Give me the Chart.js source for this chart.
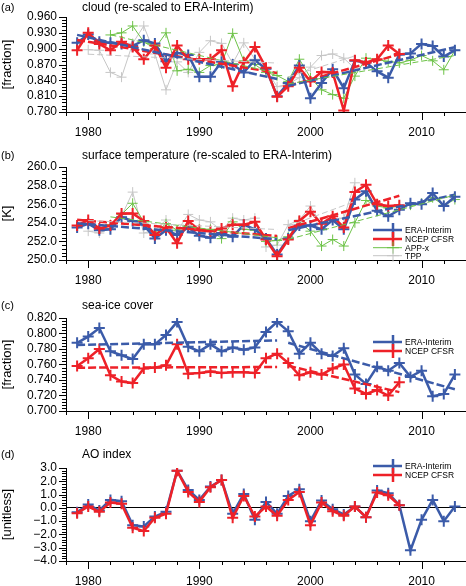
<!DOCTYPE html>
<html>
<head>
<meta charset="utf-8">
<script src="https://cdn.jsdelivr.net/npm/chart.js@4.4.1/dist/chart.umd.min.js"></script>
<style>
  body { margin: 0; background: #fff; }
  #wrap { position: relative; width: 466px; height: 586px; font-family: "Liberation Sans", Arial, sans-serif; color: #000; }
  #wrap canvas { position: absolute; left: 0; }
  .tag { position: absolute; left: 1px; font-size: 11px; line-height: 14px; }
  .ttl { position: absolute; left: 82px; font-size: 12px; line-height: 14px; white-space: nowrap; }
</style>
</head>
<body>
<div id="wrap">
  <canvas id="pa"></canvas>
  <canvas id="pb"></canvas>
  <canvas id="pc"></canvas>
  <canvas id="pd"></canvas>
  <div class="tag" style="top:0px">(a)</div>
  <div class="ttl" style="top:0px">cloud (re-scaled to ERA-Interim)</div>
  <div class="tag" style="top:148px">(b)</div>
  <div class="ttl" style="top:148px">surface temperature (re-scaled to ERA-Interim)</div>
  <div class="tag" style="top:298px">(c)</div>
  <div class="ttl" style="top:298px">sea-ice cover</div>
  <div class="tag" style="top:447px">(d)</div>
  <div class="ttl" style="top:447px">AO index</div>
</div>
<script>
// years shared by every panel
const years = [1979,1980,1981,1982,1983,1984,1985,1986,1987,1988,1989,1990,1991,1992,1993,1994,1995,1996,1997,
               1998,1999,2000,2001,2002,2003,2004,2005,2006,2007,2008,2009,2010,2011,2012,2013];

// (a) cloud
const cloudEra  = [0.911,0.927,0.913,0.911,0.909,0.905,0.916,0.910,0.876,0.892,0.888,0.847,0.847,0.875,0.870,0.855,0.878,0.862,0.810,
                   0.835,0.868,0.806,0.835,0.861,0.825,0.877,0.874,0.857,0.845,0.889,0.891,0.909,0.905,0.885,0.897];
const cloudNcep = [0.897,0.930,0.909,0.897,0.913,0.903,0.880,0.906,0.864,0.906,0.880,0.880,0.880,0.897,0.829,0.874,0.903,0.864,0.809,
                   0.829,0.864,0.838,0.856,0.855,0.783,0.878,0.874,0.880,0.906,0.890,null,null,null,null,null];
const cloudAppx = [null,null,null,0.926,0.930,0.943,0.913,0.900,0.930,0.858,0.861,0.855,0.868,0.871,0.929,0.877,0.870,0.855,0.849,
                   0.838,0.880,0.845,0.822,0.813,0.806,0.848,0.882,0.879,0.876,0.873,0.878,0.887,0.877,0.860,0.897];
const cloudTpp  = [null,0.898,0.897,0.855,0.846,0.910,0.943,0.890,0.822,0.875,0.855,0.893,0.915,0.910,0.872,0.911,0.880,0.860,0.828,
                   0.833,0.845,0.865,0.887,0.890,0.882,0.862,null,null,null,null,null,null,null,null,null];

// (b) surface temperature [K]
const tempEra  = [253.5,253.9,253.2,253.3,254.6,254.2,253.8,252.3,253.2,252.7,253.5,252.6,252.4,252.9,252.5,253.8,253.3,252.3,250.6,
                  252.3,253.7,253.7,253.3,254.3,253.3,256.5,257.4,255.3,254.7,255.4,256.1,256.0,257.2,255.8,256.8];
const tempNcep = [253.7,254.3,253.4,253.7,255.0,255.0,254.2,252.7,253.5,251.8,254.2,253.2,253.1,253.4,253.8,253.8,254.1,252.2,250.4,
                  252.2,254.2,255.2,253.9,254.7,253.5,257.3,258.1,256.0,255.8,255.9,null,null,null,null,null];
const tempAppx = [null,null,null,253.8,254.9,256.1,254.1,252.9,253.9,253.2,253.7,253.3,253.3,252.3,254.1,253.3,253.2,252.0,252.1,
                  252.5,254.1,253.1,251.5,252.2,251.5,254.0,256.4,255.8,255.6,255.8,255.9,256.1,256.7,255.9,256.5];
const tempTpp  = [null,253.1,252.9,253.4,254.7,257.3,252.9,253.2,254.3,253.1,254.9,254.3,254.1,253.2,254.5,254.3,254.5,251.4,251.6,
                  253.8,254.3,255.8,253.8,254.3,254.5,258.3,null,null,null,null,null,null,null,null,null];

// (c) sea-ice cover
const iceEra  = [0.788,0.796,0.807,0.777,0.772,0.767,0.786,0.786,0.798,0.815,0.783,0.777,0.786,0.777,0.782,0.779,0.782,0.802,0.815,
                 0.803,0.774,0.788,0.774,0.771,0.781,0.747,0.735,0.757,0.752,0.762,0.744,0.752,0.719,0.722,0.747];
const iceNcep = [0.758,0.768,0.780,0.746,0.738,0.736,0.755,0.756,0.759,0.786,0.748,0.749,0.751,0.749,0.750,0.750,0.749,0.768,0.774,
                 0.762,0.746,0.750,0.747,0.755,0.760,0.729,0.722,0.727,0.720,0.737,null,null,null,null,null];

// (d) AO index
const aoEra  = [-0.33,0.25,-0.2,0.6,0.5,-1.3,-1.4,-0.65,-0.3,2.8,1.35,0.6,1.6,2.1,-0.45,1.05,-0.9,0.45,-0.45,
                0.9,1.4,-1.0,0.55,-0.1,-0.5,0.1,-0.7,1.3,1.1,0.2,-3.2,-0.9,0.6,-1.0,0.1];
const aoNcep = [-0.4,0.1,-0.3,0.4,0.3,-1.5,-1.75,-0.75,-0.45,2.8,1.2,0.45,1.55,2.1,-0.75,0.9,-0.65,0.1,-0.6,
                0.6,1.2,-1.3,0.4,-0.25,-0.6,0.1,-0.7,1.15,0.95,0.2,null,null,null,null,null];

// trend periods
const periods = [[1979, 1997], [1998, 2013]];

const STY = {
  era:  { label: 'ERA-Interim', color: '#3b5ba9', w: 2.5, r: 5.5, pw: 2,   lr: 7, order: 2, rank: 0 },
  ncep: { label: 'NCEP CFSR',   color: '#ee2128', w: 2.5, r: 5.5, pw: 2,   lr: 7, order: 1, rank: 1 },
  appx: { label: 'APP-x',       color: '#6cc246', w: 1,   r: 5,   pw: 1,   lr: 6, order: 3, rank: 2 },
  tpp:  { label: 'TPP',         color: '#c6c6c6', w: 1,   r: 5,   pw: 1,   lr: 6, order: 4, rank: 3 }
};

function pts(vals) {
  return years.map((y, i) => ({ x: y, y: vals[i] })).filter(p => p.y !== null);
}

// least squares line over one period, end points at first/last valid year
function trend(vals, y0, y1) {
  const xs = [], ys = [];
  years.forEach((yr, i) => {
    if (yr >= y0 && yr <= y1 && vals[i] !== null) { xs.push(yr); ys.push(vals[i]); }
  });
  const n = xs.length;
  const mx = xs.reduce((a, b) => a + b, 0) / n;
  const my = ys.reduce((a, b) => a + b, 0) / n;
  let sxy = 0, sxx = 0;
  for (let i = 0; i < n; i++) { sxy += (xs[i] - mx) * (ys[i] - my); sxx += (xs[i] - mx) ** 2; }
  const b = sxy / sxx, a = my - b * mx;
  return [{ x: xs[0], y: a + b * xs[0] }, { x: xs[n - 1], y: a + b * xs[n - 1] }];
}

function seriesSets(key, vals, withTrend) {
  const s = STY[key];
  const out = [{
    label: s.label, data: pts(vals), borderColor: s.color, borderWidth: s.w,
    pointStyle: 'cross', pointRadius: s.r, pointBorderWidth: s.pw, pointBorderColor: s.color,
    pointHoverRadius: s.r, fill: false, tension: 0, order: s.order,
    inLegend: true, rank: s.rank, legendRadius: s.lr
  }];
  if (withTrend) {
    periods.forEach(p => out.push({
      data: trend(vals, p[0], p[1]), borderColor: s.color, borderWidth: s.w,
      borderDash: s.w > 2 ? [8, 3] : [6, 3], pointRadius: 0, fill: false, order: 0
    }));
  }
  return out;
}

// in-plot legend
const inLegend = {
  id: 'inLegend',
  afterDatasetsDraw(chart, args, o) {
    if (!o.rows) return;
    const ctx = chart.ctx, top = chart.chartArea.top;
    const items = chart.data.datasets.filter(d => d.inLegend).sort((a, b) => a.rank - b.rank);
    ctx.save();
    items.forEach((d, i) => {
      const y = top + o.rows[i];
      ctx.strokeStyle = d.borderColor;
      ctx.lineWidth = d.borderWidth;
      ctx.beginPath();
      ctx.moveTo(o.x0, y); ctx.lineTo(o.x1, y);
      const r = d.legendRadius;
      ctx.moveTo(o.xm, y - r); ctx.lineTo(o.xm, y + r);
      ctx.moveTo(o.xm - r, y); ctx.lineTo(o.xm + r, y);
      ctx.stroke();
      ctx.fillStyle = '#000';
      ctx.font = '8.5px "Liberation Sans", Arial, sans-serif';
      ctx.textBaseline = 'middle';
      ctx.fillText(d.label, o.x1 + 3, y + 0.5);
    });
    ctx.restore();
  }
};

// outward tick marks: long at decades / labelled values, short minors
const axisTicks = {
  id: 'axisTicks',
  afterDraw(chart) {
    const { ctx, chartArea: a, scales: { x, y } } = chart;
    ctx.save();
    ctx.strokeStyle = '#000';
    ctx.lineWidth = 1;
    ctx.beginPath();
    x.ticks.forEach(t => {
      const px = Math.round(x.getPixelForValue(t.value)) + 0.5;
      const len = t.value % 10 === 0 ? 8 : 4;
      ctx.moveTo(px, a.bottom); ctx.lineTo(px, a.bottom + len);
    });
    const tv = y.ticks.map(t => t.value);
    tv.forEach((v, i) => {
      const py = Math.round(y.getPixelForValue(v)) + 0.5;
      ctx.moveTo(a.left, py); ctx.lineTo(a.left - 7, py);
      if (i < tv.length - 1) {
        for (let k = 1; k < 5; k++) {
          const pm = Math.round(y.getPixelForValue(v + (tv[i + 1] - v) * k / 5)) + 0.5;
          ctx.moveTo(a.left, pm); ctx.lineTo(a.left - 4, pm);
        }
      }
    });
    ctx.stroke();
    ctx.restore();
  }
};

const FONT = { family: '"Liberation Sans", Arial, sans-serif', size: 12 };

function makePanel(id, cfg) {
  const cv = document.getElementById(id);
  cv.style.top = cfg.top + 'px';
  cv.style.width = '466px';
  cv.style.height = cfg.h + 'px';
  cv.width = 466; cv.height = cfg.h;
  const xH = cfg.h - (cfg.bottom - cfg.top);
  return new Chart(cv, {
    type: 'line',
    data: { datasets: cfg.datasets },
    options: {
      responsive: false,
      animation: false,
      layout: { autoPadding: false, padding: { top: cfg.areaTop - cfg.top, left: 0, right: 0, bottom: 0 } },
      plugins: {
        legend: { display: false },
        tooltip: { enabled: false },
        inLegend: cfg.legend || {}
      },
      scales: {
        x: {
          type: 'linear', min: 1978, max: 2014,
          afterFit(s) { s.height = xH; s.paddingLeft = 0; s.paddingRight = 0; },
          grid: { display: false, drawTicks: false },
          border: { display: true, color: '#000', width: 1 },
          ticks: {
            stepSize: 2, autoSkip: false, maxRotation: 0, padding: 13, color: '#000', font: FONT,
            callback: v => (v % 10 === 0 ? String(v) : '')
          }
        },
        y: {
          min: cfg.min, max: cfg.max,
          afterFit(s) { s.width = 66; s.paddingTop = 0; s.paddingBottom = 0; },
          grid: {
            display: !!cfg.zeroLine, drawTicks: false,
            color: c => (c.tick && Math.abs(c.tick.value) < 1e-9 ? '#000' : 'rgba(0,0,0,0)'),
            lineWidth: 1
          },
          border: { display: true, color: '#000', width: 1 },
          title: { display: true, text: cfg.yTitle, color: '#000', font: { family: FONT.family, size: 13 }, padding: 0 },
          ticks: {
            stepSize: cfg.step, autoSkip: false, padding: 9, color: '#000', font: FONT,
            callback: v => { const s = Math.abs(v).toFixed(cfg.dec); return v < -1e-9 ? '\u2212' + s : s; }
          }
        }
      }
    },
    plugins: [axisTicks, inLegend]
  });
}

makePanel('pa', {
  top: 0, h: 138, areaTop: 17, bottom: 112, min: 0.78, max: 0.96, step: 0.03, dec: 3, yTitle: '[fraction]',
  datasets: [].concat(
    seriesSets('tpp', cloudTpp, true), seriesSets('appx', cloudAppx, true),
    seriesSets('era', cloudEra, true), seriesSets('ncep', cloudNcep, true))
});

makePanel('pb', {
  top: 150, h: 138, areaTop: 167, bottom: 260, min: 250, max: 260, step: 2, dec: 1, yTitle: '[K]',
  datasets: [].concat(
    seriesSets('tpp', tempTpp, true), seriesSets('appx', tempAppx, true),
    seriesSets('era', tempEra, true), seriesSets('ncep', tempNcep, true)),
  legend: { x0: 373, x1: 402, xm: 393, rows: [63, 72, 80.7, 88.7] }
});

makePanel('pc', {
  top: 300, h: 138, areaTop: 318, bottom: 411, min: 0.70, max: 0.82, step: 0.02, dec: 3, yTitle: '[fraction]',
  datasets: [].concat(seriesSets('era', iceEra, true), seriesSets('ncep', iceNcep, true)),
  legend: { x0: 373, x1: 402, xm: 393, rows: [24, 33] }
});

makePanel('pd', {
  top: 450, h: 136, areaTop: 468, bottom: 561, min: -4, max: 3, step: 1, dec: 1, yTitle: '[unitless]', zeroLine: true,
  datasets: [].concat(seriesSets('era', aoEra, false), seriesSets('ncep', aoNcep, false)),
  legend: { x0: 373, x1: 402, xm: 393, rows: [-2, 7] }
});
</script>
</body>
</html>
